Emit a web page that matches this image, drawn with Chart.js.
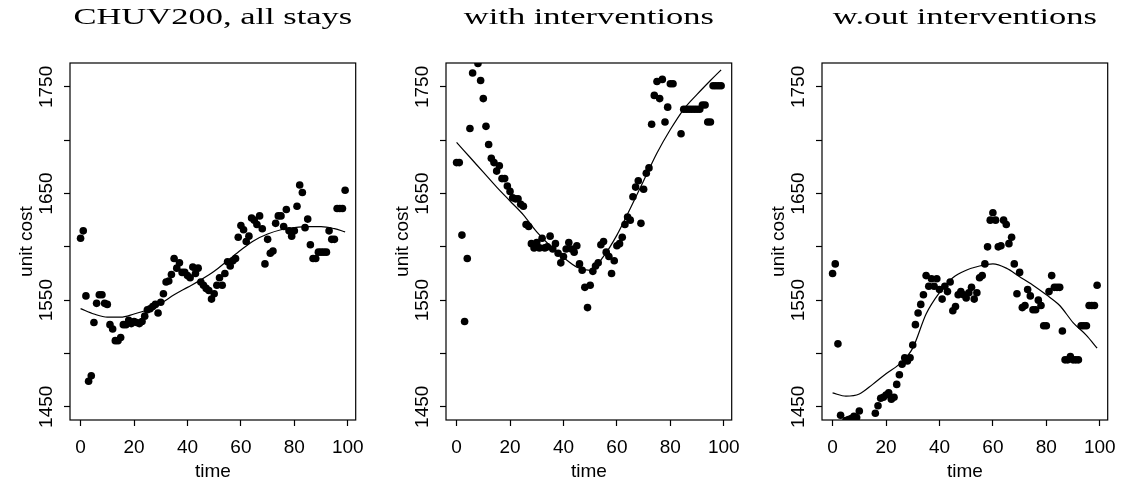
<!DOCTYPE html>
<html>
<head>
<meta charset="utf-8">
<script src="https://cdn.jsdelivr.net/npm/chart.js@4.4.1/dist/chart.umd.min.js"></script>
<style>
  html, body { margin: 0; padding: 0; background: #fff; overflow: hidden; }
  .panel { position: absolute; top: 0; width: 374px; height: 483px; }
</style>
</head>
<body>
<div class="panel" style="left:0px"><canvas id="p1" width="374" height="483"></canvas></div>
<div class="panel" style="left:376px"><canvas id="p2" width="374" height="483"></canvas></div>
<div class="panel" style="left:752px"><canvas id="p3" width="374" height="483"></canvas></div>
<script>
// Unit cost over time (time = index 0..99), three panels sharing the y range
const timeTicks = [0, 20, 40, 60, 80, 100];
const costTicks = [1450, 1500, 1550, 1600, 1650, 1700, 1750];
const costLabels = [1450, 1550, 1650, 1750];

// null = point falls outside the plotted range
const costAll = [
  1608, 1615, 1554, 1474, 1479, 1529, 1547, 1555, 1555, 1547,
  1546, 1527, 1523, 1512, 1512, 1515, 1527, 1527, 1531, 1528,
  1530, 1529, 1528, 1530, 1535, 1541, 1542, 1544, 1546, 1538,
  1548, 1556, 1567, 1568, 1574, 1589, 1580, 1585, 1576, 1576,
  1573, 1571, 1581, 1575, 1580, 1567, 1564, 1561, 1559, 1551,
  1556, 1564, 1571, 1564, 1575, 1586, 1582, 1587, 1589, 1609,
  1620, 1616, 1605, 1610, 1627, 1625, 1621, 1629, 1617, 1584,
  1607, 1594, 1596, 1622, 1629, 1629, 1619, 1635, 1615, 1610,
  1615, 1638, 1658, 1651, 1618, 1626, 1602, 1589, 1589, 1595,
  1595, 1595, 1595, 1615, 1607, 1607, 1636, 1636, 1636, 1653
];
const costWith = [
  1679, 1679, 1611, 1530, 1589, 1711, 1763, null, 1772, 1756,
  1739, 1713, 1696, 1683, 1679, 1671, 1676, 1664, 1664, 1657,
  1652, 1646, 1645, 1645, 1640, 1638, 1621, 1619, 1603, 1599,
  1604, 1599, 1608, 1599, 1600, 1610, 1598, 1603, 1594, 1585,
  1591, 1598, 1604, 1598, 1595, 1601, 1584, 1578, 1562, 1543,
  1564, 1577, 1582, 1585, 1602, 1605, 1595, 1591, 1575, 1587,
  1601, 1603, 1609, 1621, 1628, 1625, 1647, 1656, 1662, 1622,
  1654, 1669, 1674, 1715, 1742, 1755, 1739, 1757, 1717, 1731,
  1753, 1753, null, null, 1706, 1729, 1729, 1729, 1729, 1729,
  1729, 1729, 1733, 1733, 1717, 1717, 1751, 1751, 1751, 1751
];
const costWithout = [
  1575, 1584, 1509, 1442, null, 1437, 1438, 1439, 1441, 1440,
  1446, null, null, null, null, null, 1444, 1451, 1458, 1459,
  1461, 1463, 1457, 1459, 1471, 1480, 1490, 1496, 1493, 1496,
  1508, 1527, 1538, 1546, 1555, 1573, 1563, 1570, 1563, 1570,
  1560, 1551, 1563, 1558, 1567, 1540, 1544, 1555, 1558, 1555,
  1552, 1557, 1562, 1551, 1557, 1571, 1573, 1584, 1600, 1625,
  1632, 1625, 1600, 1601, 1625, 1621, 1603, 1609, 1584, 1556,
  1576, 1543, 1545, 1560, 1554, 1541, 1541, 1550, 1545, 1526,
  1526, 1558, 1573, 1562, 1562, 1562, 1521, 1494, 1494, 1497,
  1494, 1494, 1494, 1526, 1526, 1526, 1545, 1545, 1545, 1564
];

// smooth fitted curves
const fitTime = [0, 5, 10, 15, 20, 25, 30, 35, 40, 45, 50, 55, 60, 65, 70, 75, 80, 85, 90, 95, 99];
const fitAll = [1542, 1537, 1534, 1534, 1537, 1541, 1547, 1555, 1562, 1569, 1577, 1587, 1597, 1606, 1612, 1616, 1618, 1619, 1619, 1617, 1614];
const fitWith = [1698, 1684, 1670, 1656, 1643, 1630, 1614, 1601, 1590, 1581, 1578, 1591, 1611, 1636, 1662, 1688, 1710, 1729, 1743, 1756, 1766];
const fitWithout = [1463, 1460, 1462, 1471, 1481, 1490, 1505, 1537, 1557, 1571, 1578, 1582, 1584, 1580, 1572, 1564, 1555, 1545, 1529, 1517, 1505];

const sans = '"Liberation Sans", Arial, Helvetica, sans-serif';

// box round the plot, y labels parallel to the axis, serif title
const rFrame = {
    id: 'rFrame',
    afterDraw(chart, args, opts) {
        const { ctx, chartArea: a, scales } = chart;
        ctx.save();
        ctx.strokeStyle = '#000';
        ctx.lineWidth = 1.2;
        ctx.strokeRect(a.left, a.top, a.right - a.left, a.bottom - a.top);

        ctx.fillStyle = '#000';
        ctx.font = '19px ' + sans;
        ctx.textAlign = 'center';
        ctx.textBaseline = 'middle';
        costLabels.forEach(v => {
            ctx.save();
            ctx.translate(a.left - 23, scales.y.getPixelForValue(v));
            ctx.rotate(-Math.PI / 2);
            ctx.fillText(String(v), 0, 0);
            ctx.restore();
        });

        ctx.font = '23px "Liberation Serif", "Times New Roman", serif';
        ctx.textBaseline = 'alphabetic';
        ctx.translate((a.left + a.right) / 2, 24);
        ctx.scale(1.5, 1);
        ctx.fillText(opts.title, 0, 0);
        ctx.restore();
    }
};

function makePanel(id, title, values, fit) {
    const points = values
        .map((v, i) => ({ x: i, y: v }))
        .filter(p => p.y !== null);
    const curve = fitTime.map((t, i) => ({ x: t, y: fit[i] }));

    new Chart(document.getElementById(id), {
        type: 'scatter',
        data: {
            datasets: [{
                data: points,
                pointRadius: 3.8,
                pointBackgroundColor: '#000',
                pointBorderWidth: 0,
                clip: 0
            }, {
                data: curve,
                showLine: true,
                pointRadius: 0,
                borderColor: '#000',
                borderWidth: 1.2,
                cubicInterpolationMode: 'monotone',
                clip: 0
            }]
        },
        options: {
            responsive: false,
            animation: false,
            devicePixelRatio: 1,
            layout: { padding: { left: 0, right: 13, top: 63, bottom: 0 } },
            plugins: {
                legend: { display: false },
                tooltip: { enabled: false },
                rFrame: { title }
            },
            scales: {
                x: {
                    type: 'linear',
                    min: -3.96,
                    max: 102.96,
                    afterBuildTicks: s => { s.ticks = timeTicks.map(v => ({ value: v })); },
                    afterFit: s => { s.height = 63; },
                    border: { display: false },
                    grid: { drawOnChartArea: false, drawTicks: true, tickLength: 6, tickColor: '#000', tickWidth: 1.2 },
                    ticks: { color: '#000', font: { family: sans, size: 19 }, padding: 10, maxRotation: 0, autoSkip: false },
                    title: { display: true, text: 'time', color: '#000', font: { family: sans, size: 19 }, padding: 0 }
                },
                y: {
                    type: 'linear',
                    min: 1437.6,
                    max: 1772.4,
                    afterBuildTicks: s => { s.ticks = costTicks.map(v => ({ value: v })); },
                    afterFit: s => { s.width = 70; },
                    border: { display: false },
                    grid: { drawOnChartArea: false, drawTicks: true, tickLength: 6, tickColor: '#000', tickWidth: 1.2 },
                    ticks: { callback: () => '', padding: 0 },
                    title: { display: true, text: 'unit cost', color: '#000', font: { family: sans, size: 19 }, padding: { top: 15, bottom: 0 } }
                }
            }
        },
        plugins: [rFrame]
    });
}

makePanel('p1', 'CHUV200, all stays', costAll, fitAll);
makePanel('p2', 'with interventions', costWith, fitWith);
makePanel('p3', 'w.out interventions', costWithout, fitWithout);
</script>
</body>
</html>
